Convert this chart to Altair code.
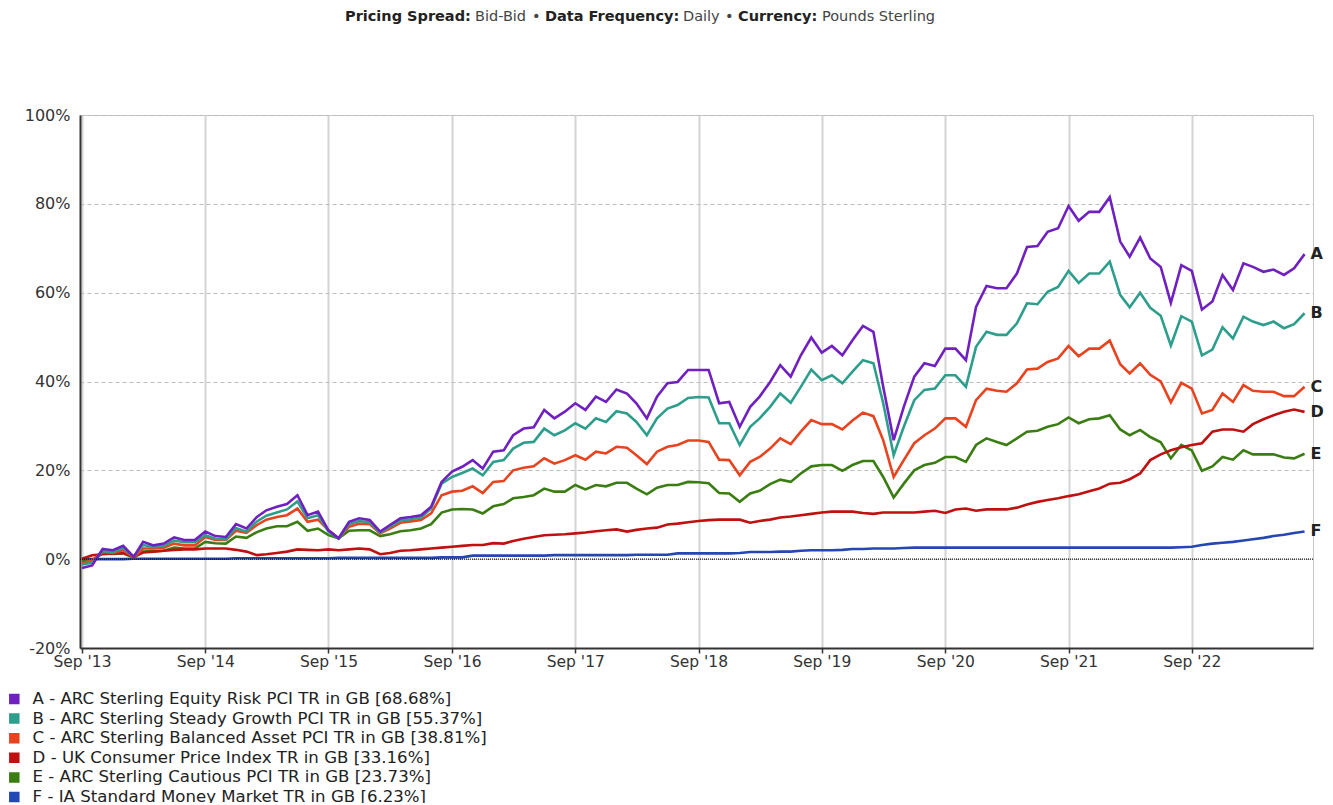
import altair as alt
import pandas as pd

letters = ["A", "B", "C", "D", "E", "F"]
names = [
    "A - ARC Sterling Equity Risk PCI TR in GB [68.68%]",
    "B - ARC Sterling Steady Growth PCI TR in GB [55.37%]",
    "C - ARC Sterling Balanced Asset PCI TR in GB [38.81%]",
    "D - UK Consumer Price Index TR in GB [33.16%]",
    "E - ARC Sterling Cautious PCI TR in GB [23.73%]",
    "F - IA Standard Money Market TR in GB [6.23%]",
]
colors = ["#7020C0", "#2E9E8C", "#E8431E", "#C01010", "#3B7D12", "#2546B5"]

# monthly points, Sep 2013 .. Aug 2023
months = [f"{2013 + (8 + i) // 12}-{(8 + i) % 12 + 1:02d}-01" for i in range(120)]

A = [-2, -1.4, 2.3, 2, 3, 0.5, 3.9, 3.1, 3.5, 4.9,
     4.3, 4.3, 6.2, 5.2, 5, 7.9, 6.9, 9.5, 11, 11.8,
     12.4, 14.4, 9.9, 10.7, 6.5, 4.7, 8.4, 9.2, 8.8, 6.2,
     7.7, 9.2, 9.5, 9.9, 11.8, 17.4, 19.7, 20.8, 22.3, 20.4,
     24.2, 24.5, 27.9, 29.4, 29.7, 33.6, 31.7, 33.2, 35.1, 33.6,
     36.6, 35.4, 38.2, 37.3, 35.1, 31.7, 36.6, 39.6, 39.9, 42.6,
     42.6, 42.6, 35.1, 35.4, 29.8, 34.3, 36.6, 39.9, 43.7, 41.1,
     45.9, 49.9, 46.5, 48, 45.9, 49.3, 52.5, 51.2, 38.8, 26.8,
     34.3, 41.1, 44.1, 43.5, 47.4, 47.4, 44.8, 56.8, 61.5, 61,
     61, 64.3, 70.3, 70.5, 73.7, 74.5, 79.5, 76.2, 78.2, 78.2,
     81.5, 71.5, 68.1, 72.4, 67.7, 65.8, 57.7, 66.2, 64.9, 56.2,
     58, 64, 60.6, 66.6, 65.8, 64.7, 65.2, 64, 65.5, 68.68]
B = [-1.2, -0.8, 1.8, 1.6, 2.5, 0.6, 3.2, 2.7, 3, 4.2,
     3.8, 3.8, 5.4, 4.6, 4.5, 7, 6.2, 8.5, 9.8, 10.5,
     11.2, 13, 9.2, 9.9, 6.2, 4.6, 7.9, 8.6, 8.3, 6,
     7.3, 8.7, 9, 9.4, 11.4, 17, 18.5, 19.4, 20.4, 18.9,
     21.9, 22.3, 24.9, 26.2, 26.4, 29.4, 27.9, 29, 30.6, 29.4,
     31.7, 30.9, 33.3, 32.8, 30.9, 27.9, 31.7, 33.9, 34.7, 36.3,
     36.5, 36.4, 30.6, 30.6, 25.7, 29.8, 31.7, 34.3, 37.3, 35.2,
     38.8, 42.7, 40.3, 41.4, 39.6, 42.2, 44.8, 44.1, 35.1, 23.4,
     29.8, 35.8, 38.1, 38.4, 41.4, 41.4, 38.8, 47.8, 51.2, 50.5,
     50.5, 53.1, 57.6, 57.4, 60.2, 61.3, 64.9, 62.2, 64.3, 64.3,
     67, 59.5, 56.7, 60, 56.6, 54.8, 48.1, 54.7, 53.5, 45.9,
     47.2, 52.2, 49.7, 54.6, 53.5, 52.7, 53.5, 52, 52.9, 55.37]
C = [-1, -0.2, 1.6, 1.4, 2, 0.4, 2.4, 2.4, 2.6, 3.5,
     3.1, 3.1, 5, 4.3, 4.3, 6.4, 5.9, 7.7, 8.9, 9.5,
     9.9, 11.4, 8.4, 8.9, 6.5, 4.7, 7.3, 8, 7.9, 5.8,
     6.9, 8.2, 8.5, 8.8, 10.3, 14.4, 15.2, 15.4, 16.4, 14.9,
     17.4, 17.6, 20, 20.6, 20.9, 22.7, 21.5, 22.3, 23.4, 22.4,
     24.2, 23.8, 25.3, 25.1, 23.4, 21.4, 24.2, 25.3, 25.7, 26.7,
     26.7, 26.4, 22.4, 22.3, 18.9, 21.9, 23, 24.9, 27.2, 25.9,
     28.7, 31.3, 30.4, 30.4, 29.2, 31.2, 33, 32.2, 26.8, 18.5,
     22.3, 26.1, 27.9, 29.4, 31.7, 31.7, 29.8, 35.8, 38.4, 37.9,
     37.7, 39.6, 42.7, 42.9, 44.4, 45.2, 48, 45.7, 47.4, 47.4,
     49.2, 43.9, 41.8, 44.1, 41.5, 40, 35.3, 39.7, 38.4, 32.8,
     33.6, 37.3, 35.4, 39.2, 37.9, 37.7, 37.7, 36.7, 36.7, 38.81]
D = [0.1, 0.9, 1.1, 1.3, 1.4, 0.6, 1.5, 1.7, 1.9, 2.1,
     2.2, 2.2, 2.4, 2.4, 2.4, 2.1, 1.7, 0.9, 1.1, 1.4,
     1.7, 2.2, 2.1, 2, 2.2, 2, 2.2, 2.4, 2.2, 1.1,
     1.4, 1.9, 2, 2.2, 2.4, 2.6, 2.8, 3, 3.2, 3.2,
     3.6, 3.5, 4.1, 4.6, 5, 5.4, 5.5, 5.6, 5.8, 6,
     6.3, 6.5, 6.7, 6.2, 6.6, 6.9, 7.1, 7.8, 8, 8.3,
     8.6, 8.8, 8.9, 8.9, 8.9, 8.2, 8.6, 8.9, 9.4, 9.6,
     9.9, 10.2, 10.5, 10.7, 10.7, 10.7, 10.4, 10.2, 10.5, 10.5,
     10.5, 10.5, 10.7, 10.9, 10.4, 11.2, 11.4, 10.9, 11.2, 11.2,
     11.2, 11.6, 12.3, 12.9, 13.3, 13.7, 14.2, 14.6, 15.3, 15.9,
     17, 17.2, 18, 19.3, 22.3, 23.6, 24.5, 25.2, 25.7, 26.1,
     28.7, 29.2, 29.2, 28.7, 30.4, 31.5, 32.4, 33.2, 33.7, 33.16]
E = [-0.5, -0.3, 1.3, 1.2, 1.3, 0.3, 1.7, 1.8, 1.9, 2.6,
     2.4, 2.4, 3.9, 3.6, 3.5, 5.1, 4.8, 6.1, 6.9, 7.4,
     7.4, 8.4, 6.4, 6.9, 5.4, 4.7, 6.4, 6.5, 6.5, 5.2,
     5.6, 6.3, 6.5, 6.9, 7.9, 10.5, 11.2, 11.3, 11.2, 10.3,
     11.9, 12.4, 13.7, 14, 14.4, 15.9, 15.2, 15.2, 16.7, 15.7,
     16.7, 16.4, 17.2, 17.2, 15.9, 14.6, 16.1, 16.7, 16.7, 17.4,
     17.3, 17.1, 14.9, 14.8, 12.9, 14.8, 15.4, 16.9, 17.9, 17.4,
     19.3, 20.9, 21.2, 21.2, 19.9, 21.2, 22.1, 22.1, 18.5, 13.9,
     17, 20, 21.2, 21.7, 23, 23, 21.9, 25.7, 27.2, 26.4,
     25.7, 27.2, 28.7, 28.9, 29.8, 30.4, 31.9, 30.6, 31.5, 31.7,
     32.4, 29.2, 27.9, 29.1, 27.5, 26.3, 22.7, 25.7, 24.5, 19.9,
     20.9, 23, 22.4, 24.5, 23.6, 23.6, 23.6, 22.9, 22.7, 23.73]
F = [0.0, 0.0, 0.0, 0.0, 0.0, 0.1, 0.1, 0.1, 0.1, 0.1,
     0.1, 0.1, 0.1, 0.1, 0.1, 0.2, 0.2, 0.2, 0.2, 0.2,
     0.2, 0.2, 0.2, 0.2, 0.2, 0.3, 0.3, 0.3, 0.3, 0.3,
     0.3, 0.3, 0.3, 0.3, 0.3, 0.4, 0.4, 0.4, 0.8, 0.8,
     0.8, 0.8, 0.8, 0.8, 0.8, 0.8, 0.9, 0.9, 0.9, 0.9,
     0.9, 0.9, 0.9, 0.9, 1.0, 1.0, 1.0, 1.0, 1.3, 1.3,
     1.3, 1.3, 1.3, 1.3, 1.4, 1.6, 1.6, 1.6, 1.7, 1.7,
     1.9, 2.0, 2.0, 2.0, 2.1, 2.3, 2.3, 2.4, 2.4, 2.4,
     2.5, 2.6, 2.6, 2.6, 2.6, 2.6, 2.6, 2.6, 2.6, 2.6,
     2.6, 2.6, 2.6, 2.6, 2.6, 2.6, 2.6, 2.6, 2.6, 2.6,
     2.6, 2.6, 2.6, 2.6, 2.6, 2.6, 2.6, 2.7, 2.8, 3.2,
     3.5, 3.7, 3.9, 4.2, 4.5, 4.8, 5.2, 5.5, 5.9, 6.23]

y_ticks = [-20, 0, 20, 40, 60, 80, 100]
x_tick_years = list(range(2013, 2023))

series = {"A": A, "B": B, "C": C, "D": D, "E": E, "F": F}
rows = []
for letter in reversed(letters):  # draw F first, A last (on top)
    name = names[letters.index(letter)]
    for d, v in zip(months, series[letter]):
        rows.append({"date": d, "value": v, "series": name, "letter": letter})
df = pd.DataFrame(rows)
last = df[df["date"] == months[-1]]
zero_df = pd.DataFrame({"v": [0]})
# legend carrier: one row per series, placed far outside the clipped plot
legend_df = pd.DataFrame({"date": [months[0]] * 6, "value": [-1000] * 6, "series": names})

FONT = "DejaVu Sans"

x_enc = alt.X(
    "date:T",
    title=None,
    scale=alt.Scale(
        type="utc",
        domain=[alt.DateTime(year=2013, month=8, date=26, utc=True),
                alt.DateTime(year=2023, month=8, date=26, utc=True)],
    ),
    axis=alt.Axis(
        values=[alt.DateTime(year=y, month=9, date=1, utc=True) for y in x_tick_years],
        labelExpr="utcFormat(datum.value, '%b') + \" '\" + utcFormat(datum.value, '%y')",
        labelFlush=False, labelOverlap=False,
        domainColor="#333333", domainWidth=2,
        tickColor="#333333", tickSize=5, tickWidth=1.5,
        gridColor="#d4d4d4", gridWidth=2,
        labelFont=FONT, labelFontSize=15.5, labelColor="#333333", labelPadding=1,
    ),
)
y_enc = alt.Y(
    "value:Q",
    title=None,
    scale=alt.Scale(domain=[-20, 100], nice=False, zero=False),
    axis=alt.Axis(
        values=y_ticks, labelExpr="datum.value + '%'",
        ticks=False, domainColor="#333333", domainWidth=2,
        gridColor="#bdbdbd", gridWidth=1, gridDash=[4, 3],
        labelFont=FONT, labelFontSize=16, labelColor="#333333", labelPadding=10,
    ),
)

color_scale = alt.Scale(domain=names, range=colors)

lines = alt.Chart(df).mark_line(strokeWidth=2.6).encode(
    x=x_enc, y=y_enc, color=alt.Color("series:N", scale=color_scale, legend=None)
)

legend_layer = alt.Chart(legend_df).mark_square(
    size=110, filled=True, opacity=1, clip=True
).encode(
    x="date:T", y="value:Q",
    color=alt.Color(
        "series:N", scale=color_scale,
        legend=alt.Legend(
            title=None, orient="none", legendX=-74, legendY=576, direction="vertical",
            symbolType="square", symbolSize=110, symbolStrokeWidth=0, symbolOpacity=1,
            labelFont=FONT, labelFontSize=16.6, labelColor="#222222", labelOffset=10,
            labelLimit=0, rowPadding=2.6, padding=0, clipHeight=16,
        ),
    ),
)

zero_rule = alt.Chart(zero_df).mark_rule(
    color="#111111", strokeDash=[1, 1], strokeWidth=1.2
).encode(y="v:Q")

end_labels = alt.Chart(last).mark_text(
    align="left", baseline="middle", dx=6, font=FONT, fontSize=16,
    fontWeight="bold", color="#222222"
).encode(x="date:T", y="value:Q", text="letter:N")

# header segments: (text, page x, bold)
header = [
    ("Pricing Spread:", 345, True), ("Bid-Bid", 475, False), ("\u2022", 532, False),
    ("Data Frequency:", 545, True), ("Daily", 683, False), ("\u2022", 725, False),
    ("Currency:", 738, True), ("Pounds Sterling", 822, False),
]
header_layers = []
for txt, px, bold in header:
    header_layers.append(
        alt.Chart(pd.DataFrame({"t": [txt]})).mark_text(
            align="left", baseline="middle", font=FONT, fontSize=14.5,
            fontWeight="bold" if bold else "normal",
            color="#222222" if bold else "#444444",
        ).encode(x=alt.value(px - 80), y=alt.value(17 - 115), text="t:N")
    )

chart = alt.layer(lines, legend_layer, zero_rule, end_labels, *header_layers).resolve_legend(
    color="independent"
).properties(
    width=1233, height=533,
    autosize=alt.AutoSizeParams(type="none"),
    padding={"left": 72, "top": 107, "right": 12, "bottom": 155},
).configure_view(stroke="#c8c8c8", strokeWidth=1)

chart.save("out.html", embed_options={"renderer": "svg", "actions": False})
